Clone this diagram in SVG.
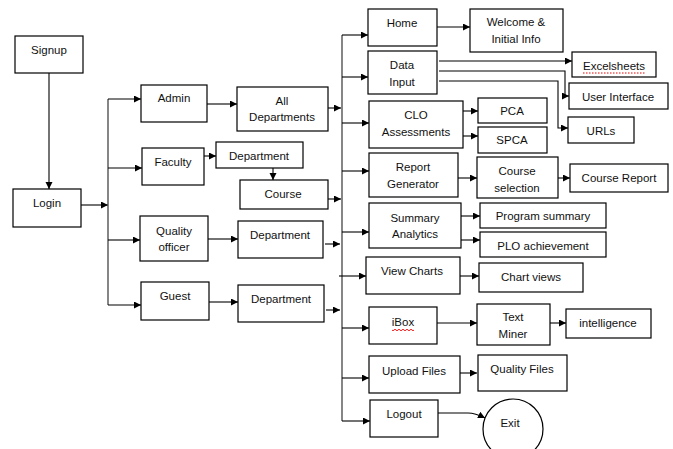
<svg xmlns="http://www.w3.org/2000/svg" width="673" height="449" viewBox="0 0 673 449">
<defs>
<marker id="ah" markerUnits="userSpaceOnUse" markerWidth="8" markerHeight="8" refX="7" refY="3.5" orient="auto">
<path d="M0,0 L7,3.5 L0,7 Z" fill="#000"/>
</marker>
<style>
.b{fill:#fff;stroke:#000;stroke-width:1.2}
.t{font-family:"Liberation Sans",Arial,sans-serif;font-size:11.5px;fill:#111;text-anchor:middle}
.c{fill:none;stroke:#000;stroke-width:1.1}
.a{marker-end:url(#ah)}
.bus{fill:none;stroke:#444;stroke-width:1.3}
</style>
</defs>
<rect width="673" height="449" fill="#fff"/>

<g id="connectors">
<path class="c a" d="M49,73 V189"/>
<path class="c a" d="M81,205 H108"/>
<path class="bus" d="M108,99 V305"/>
<path class="c a" d="M108,99 H141"/>
<path class="c a" d="M108,168 H142"/>
<path class="c a" d="M108,240 H140"/>
<path class="c a" d="M108,305 H141"/>
<path class="c a" d="M207,104 H237"/>
<path class="c a" d="M204,156 H216"/>
<path class="c a" d="M273,168 V180"/>
<path class="c a" d="M208,239 H238"/>
<path class="c a" d="M209,302 H238"/>
<path class="c a" d="M328,108 H341"/>
<path class="c a" d="M328,199 H341"/>
<path class="c a" d="M325,244 H340"/>
<path class="c a" d="M326,310 H340"/>
<path class="bus" d="M342,35 V421"/>
<path class="c a" d="M342,35 H368"/>
<path class="c a" d="M342,77 H368"/>
<path class="c a" d="M342,123 H369"/>
<path class="c a" d="M342,171 H369"/>
<path class="c a" d="M342,232 H369"/>
<path class="c a" d="M339,276 H366"/>
<path class="c a" d="M342,328 H369"/>
<path class="c a" d="M342,378 H369"/>
<path class="c a" d="M342,421 H370"/>
<path class="c a" d="M437,27 H470"/>
<path class="c a" d="M439,61 H572"/>
<path class="c a" d="M439,71 H565 V96 H569"/>
<path class="c a" d="M439,81 H558 V128 H568"/>
<path class="c a" d="M463,111 H478"/>
<path class="c a" d="M463,136 H478"/>
<path class="c a" d="M458,178 H477"/>
<path class="c a" d="M558,178 H570"/>
<path class="c a" d="M461,216 H480"/>
<path class="c a" d="M461,240 H480"/>
<path class="c a" d="M460,276 H479"/>
<path class="c a" d="M437,323 H477"/>
<path class="c a" d="M550,323 H566"/>
<path class="c a" d="M453,373 H477"/>
<path class="c a" d="M438,413 H468 Q475,413 485,418"/>
</g>

<g id="signup"><rect class="b" x="15" y="36" width="68" height="37"/><text class="t" x="49" y="54">Signup</text></g>
<g id="login"><rect class="b" x="13" y="189" width="68" height="38"/><text class="t" x="47" y="207">Login</text></g>
<g id="admin"><rect class="b" x="141" y="85" width="66" height="37"/><text class="t" x="174" y="102">Admin</text></g>
<g id="faculty"><rect class="b" x="142" y="148" width="62" height="37"/><text class="t" x="173" y="166">Faculty</text></g>
<g id="quality"><rect class="b" x="140" y="216" width="68" height="45"/><text class="t" x="174" y="235">Quality</text><text class="t" x="174" y="251">officer</text></g>
<g id="guest"><rect class="b" x="141" y="282" width="68" height="38"/><text class="t" x="175" y="300">Guest</text></g>
<g id="alldept"><rect class="b" x="237" y="87" width="91" height="44"/><text class="t" x="282" y="105">All</text><text class="t" x="282" y="121">Departments</text></g>
<g id="facdept"><rect class="b" x="216" y="142" width="87" height="26"/><text class="t" x="259" y="160">Department</text></g>
<g id="course"><rect class="b" x="240" y="180" width="88" height="29"/><text class="t" x="283" y="198">Course</text></g>
<g id="qdept"><rect class="b" x="238" y="221" width="85" height="37"/><text class="t" x="280" y="239">Department</text></g>
<g id="gdept"><rect class="b" x="238" y="285" width="86" height="37"/><text class="t" x="281" y="303">Department</text></g>

<g id="home"><rect class="b" x="368" y="9" width="69" height="37"/><text class="t" x="402" y="27">Home</text></g>
<g id="welcome"><rect class="b" x="470" y="9" width="93" height="43"/><text class="t" x="516" y="26">Welcome &amp;</text><text class="t" x="516" y="43">Initial Info</text></g>
<g id="datainput"><rect class="b" x="368" y="51" width="69" height="43"/><text class="t" x="402" y="69">Data</text><text class="t" x="402" y="86">Input</text></g>
<g id="excel"><rect class="b" x="572" y="52" width="84" height="25"/><text class="t" x="614" y="70">Excelsheets</text><path d="M583,73 H646" stroke="#e00" stroke-width="1" stroke-dasharray="1.5,1.5" fill="none"/></g>
<g id="ui"><rect class="b" x="569" y="83" width="99" height="26"/><text class="t" x="618" y="101">User Interface</text></g>
<g id="urls"><rect class="b" x="568" y="117" width="66" height="26"/><text class="t" x="601" y="135">URLs</text></g>
<g id="clo"><rect class="b" x="369" y="101" width="94" height="47"/><text class="t" x="416" y="119">CLO</text><text class="t" x="416" y="136">Assessments</text></g>
<g id="pca"><rect class="b" x="478" y="98" width="69" height="25"/><text class="t" x="512" y="115">PCA</text></g>
<g id="spca"><rect class="b" x="478" y="127" width="69" height="26"/><text class="t" x="512" y="144">SPCA</text></g>
<g id="report"><rect class="b" x="369" y="153" width="89" height="44"/><text class="t" x="413" y="171">Report</text><text class="t" x="413" y="188">Generator</text></g>
<g id="coursesel"><rect class="b" x="477" y="157" width="81" height="41"/><text class="t" x="517" y="175">Course</text><text class="t" x="517" y="192">selection</text></g>
<g id="coursereport"><rect class="b" x="570" y="164" width="98" height="28"/><text class="t" x="619" y="182">Course Report</text></g>
<g id="summary"><rect class="b" x="369" y="203" width="92" height="45"/><text class="t" x="415" y="222">Summary</text><text class="t" x="415" y="238">Analytics</text></g>
<g id="progsum"><rect class="b" x="480" y="203" width="126" height="25"/><text class="t" x="543" y="220">Program summary</text></g>
<g id="plo"><rect class="b" x="480" y="232" width="126" height="25"/><text class="t" x="543" y="250">PLO achievement</text></g>
<g id="viewcharts"><rect class="b" x="366" y="257" width="94" height="37"/><text class="t" x="412" y="275">View Charts</text></g>
<g id="chartviews"><rect class="b" x="479" y="263" width="104" height="29"/><text class="t" x="531" y="281">Chart views</text></g>
<g id="ibox"><rect class="b" x="369" y="307" width="68" height="37"/><text class="t" x="403" y="326">iBox</text><path d="M392,330 q1,1.5 2,0 t2,0 t2,0 t2,0 t2,0 t2,0 t2,0 t2,0 t2,0 t2,0 t2,0" stroke="#e00" stroke-width="0.9" fill="none"/></g>
<g id="textminer"><rect class="b" x="477" y="304" width="73" height="41"/><text class="t" x="513" y="321">Text</text><text class="t" x="513" y="338">Miner</text></g>
<g id="intel"><rect class="b" x="566" y="309" width="85" height="29"/><text class="t" x="608" y="327">intelligence</text></g>
<g id="upload"><rect class="b" x="369" y="356" width="91" height="37"/><text class="t" x="414" y="375">Upload Files</text></g>
<g id="qfiles"><rect class="b" x="478" y="355" width="89" height="36"/><text class="t" x="522" y="373">Quality Files</text></g>
<g id="logout"><rect class="b" x="370" y="400" width="68" height="37"/><text class="t" x="404" y="418">Logout</text></g>
<g id="exit"><circle class="b" cx="513" cy="429" r="30"/><text class="t" x="510" y="427">Exit</text></g>
</svg>
